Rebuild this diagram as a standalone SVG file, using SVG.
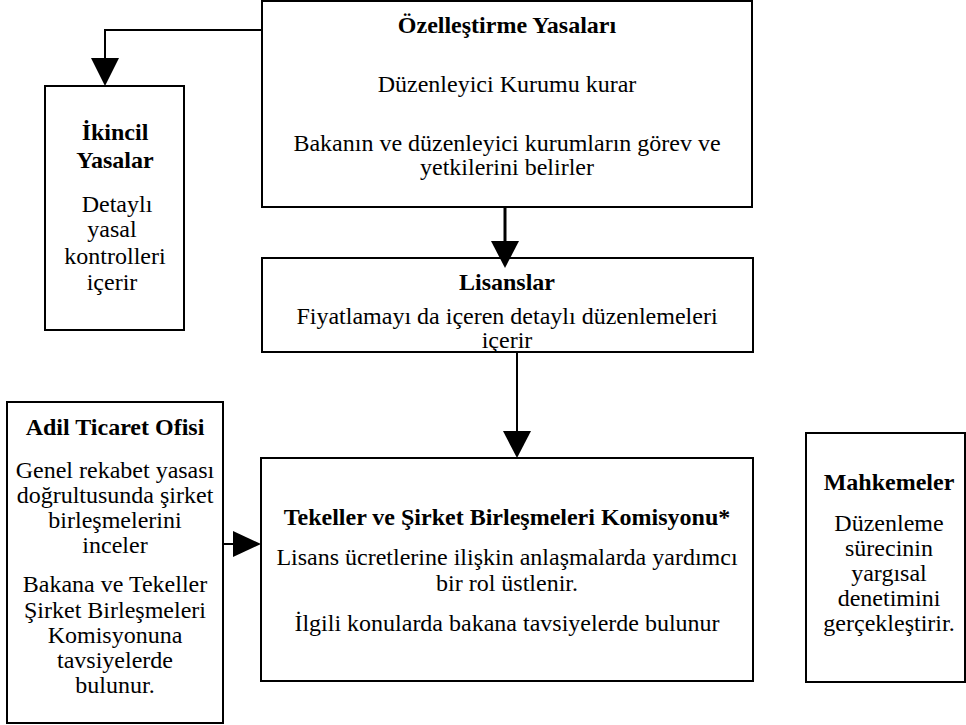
<svg xmlns="http://www.w3.org/2000/svg" width="966" height="725" viewBox="0 0 966 725">
<style>
.box{fill:#fff;stroke:#000;stroke-width:2}
.t{font-family:"Liberation Serif","Times New Roman",Times,serif;font-size:24px;fill:#000;text-anchor:middle}
.b{font-weight:bold}
.ln{fill:none;stroke:#000;stroke-width:2}
.ah{fill:#000;stroke:none}
</style>
<rect width="966" height="725" fill="#fff"/>
<g id="ozellestirme">
<rect class="box" x="262" y="1" width="490" height="206"/>
<text class="t b" x="507" y="33">Özelleştirme Yasaları</text>
<text class="t" x="507" y="92">Düzenleyici Kurumu kurar</text>
<text class="t" x="507" y="151">Bakanın ve düzenleyici kurumların görev ve</text>
<text class="t" x="507" y="175">yetkilerini belirler</text>
</g>
<g id="ikincil">
<rect class="box" x="45" y="86" width="139" height="244"/>
<text class="t b" x="115" y="140">İkincil</text>
<text class="t b" x="115" y="168">Yasalar</text>
<text class="t" x="117" y="212">Detaylı</text>
<text class="t" x="112" y="237">yasal</text>
<text class="t" x="115" y="264">kontrolleri</text>
<text class="t" x="112" y="290">içerir</text>
</g>
<g id="lisanslar">
<rect class="box" x="262" y="258" width="491" height="94"/>
<text class="t b" x="507" y="290">Lisanslar</text>
<text class="t" x="507" y="324">Fiyatlamayı da içeren detaylı düzenlemeleri</text>
<text class="t" x="507" y="348">içerir</text>
</g>
<g id="adil">
<rect class="box" x="7" y="402" width="216" height="321"/>
<text class="t b" x="115" y="435">Adil Ticaret Ofisi</text>
<text class="t" x="115" y="478">Genel rekabet yasası</text>
<text class="t" x="115" y="503">doğrultusunda şirket</text>
<text class="t" x="115" y="528">birleşmelerini</text>
<text class="t" x="115" y="553">inceler</text>
<text class="t" x="115" y="592">Bakana ve Tekeller</text>
<text class="t" x="115" y="618">Şirket Birleşmeleri</text>
<text class="t" x="115" y="643">Komisyonuna</text>
<text class="t" x="115" y="668">tavsiyelerde</text>
<text class="t" x="115" y="693">bulunur.</text>
</g>
<g id="tekeller">
<rect class="box" x="261" y="458" width="492" height="223"/>
<text class="t b" x="507" y="525">Tekeller ve Şirket Birleşmeleri Komisyonu*</text>
<text class="t" x="507" y="565">Lisans ücretlerine ilişkin anlaşmalarda yardımcı</text>
<text class="t" x="507" y="591">bir rol üstlenir.</text>
<text class="t" x="507" y="631">İlgili konularda bakana tavsiyelerde bulunur</text>
</g>
<g id="mahkemeler">
<rect class="box" x="806" y="433" width="159" height="249"/>
<text class="t b" x="889" y="490">Mahkemeler</text>
<text class="t" x="889" y="531">Düzenleme</text>
<text class="t" x="889" y="556">sürecinin</text>
<text class="t" x="889" y="581">yargısal</text>
<text class="t" x="889" y="606">denetimini</text>
<text class="t" x="889" y="631">gerçekleştirir.</text>
</g>
<g id="connectors">
<path class="ln" d="M262 30 H105 V60"/>
<polygon class="ah" points="91,58 119,58 105,86"/>
<path class="ln" style="stroke-width:3" d="M505 207 V242"/>
<polygon class="ah" points="491,241 519,241 505,268"/>
<path class="ln" d="M517 352 V432"/>
<polygon class="ah" points="503,431 531,431 517,458"/>
<path class="ln" d="M223 544 H234"/>
<polygon class="ah" points="233,531 261,544 233,557"/>
</g>
</svg>
